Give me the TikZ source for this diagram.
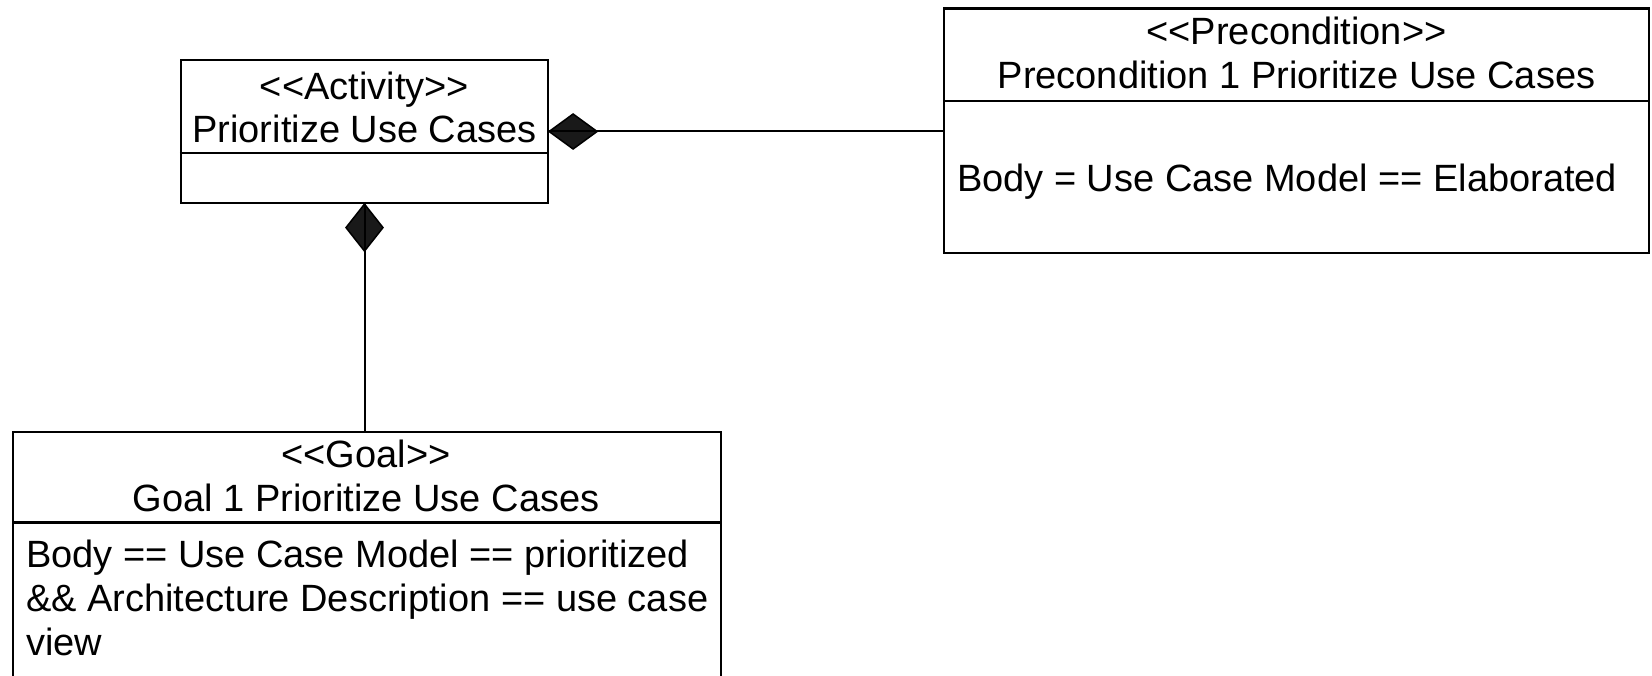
\documentclass[tikz,border=0pt]{standalone}
\usepackage{fontspec}
\setmainfont{Liberation Sans}[Ligatures=TeXOff]
\begin{document}
\begin{tikzpicture}[x=1pt,y=-1pt,line width=2pt,
  box/.style={draw,line width=2.2pt,inner sep=0pt},
  txt/.style={font=\fontsize{38}{44}\selectfont,inner sep=0pt,anchor=base},
  ltxt/.style={txt,anchor=base west},
  dia/.style={draw,line width=1.5pt,fill=black!90,line join=miter},
  conn/.style={draw,line width=2pt}]
\useasboundingbox (0,0) rectangle (1652,676);
\clip (0,0) rectangle (1652,676);
% boxes
\node[box,minimum width=367pt,minimum height=143pt] (act) at (364.5,131.5) {};
\node[box,minimum width=705pt,minimum height=244.5pt] (pre) at (1296.5,130.75) {};
\node[box,minimum width=708pt,minimum height=260pt,anchor=north west] (goal) at (12,431) {};
% dividers
\draw[line width=2.2pt] (act.west |- 0,153) -- (act.east |- 0,153);
\draw[line width=2.2pt] (pre.west |- 0,101) -- (pre.east |- 0,101);
\draw[line width=2.2pt] (goal.west |- 0,522.5) -- (goal.east |- 0,522.5);
% texts
\node[txt] (actS) at (364.5,100) {<<Activity>>};
\node[txt] (actN) at (364.5,143) {Prioritize Use Cases};
\node[txt] (preS) at (1296.5,45) {<<Precondition>>};
\node[txt] (preN) at (1296.5,88.5) {Precondition 1 Prioritize Use Cases};
\node[ltxt] (preB) at (956,192) {Body = Use Case Model == Elaborated};
\node[txt] (goalS) at (366,467) {<<Goal>>};
\node[txt] (goalN) at (366,511) {Goal 1 Prioritize Use Cases};
\node[ltxt] (goalB1) at (25,567) {Body == Use Case Model == prioritized};
\node[ltxt] (goalB2) at (25,611) {\&\& Architecture Description == use case};
\node[ltxt] (goalB3) at (25,655) {view};
% composition diamonds
\path[dia] (act.east) -- ++(24,-17.5) -- ++(24,17.5) -- ++(-24,17.5) -- cycle;
\path[dia] (act.south) -- ++(-18.5,23.5) -- ++(18.5,23.5) -- ++(18.5,-23.5) -- cycle;
% connectors
\path[conn] (act.east) -- (act.east -| pre.west);
\path[conn] (act.south) -- (act.south |- goal.north);
\end{tikzpicture}
\end{document}
